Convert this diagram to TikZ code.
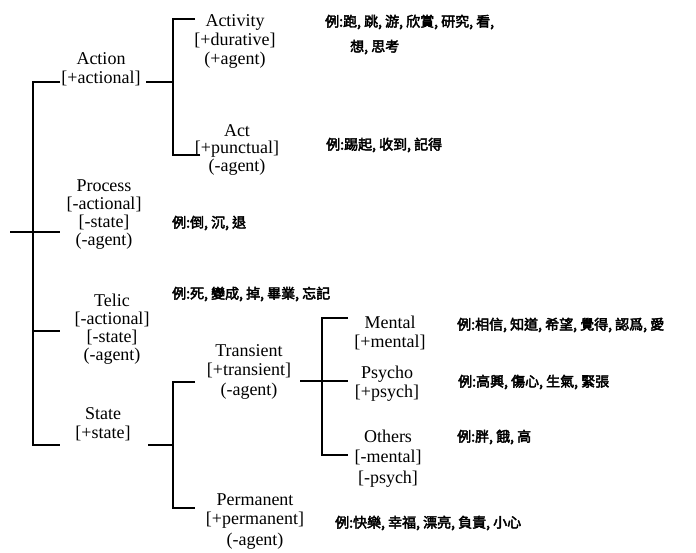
\documentclass[tikz,border=0pt]{standalone}
\usepackage{fontspec}
\setmainfont{Liberation Serif}
\newfontfamily\cjk[FakeBold=3]{Noto Sans CJK TC}

\begin{document}
\begin{tikzpicture}[x=1pt,y=-1pt,
    cat/.style={align=center,inner sep=0pt,font=\fontsize{18}{19}\selectfont},
    ex/.style={anchor=west,inner sep=0pt,font=\cjk\fontsize{14}{16}\selectfont},
    br/.style={line width=1.6pt}]
    \useasboundingbox (0,0) rectangle (696,553);

    % categories
    \node[cat] (action) at (101,69) {Action\\{[}+actional]};
    \node[cat] (activity) at (235,41.5) {Activity\\{[}+durative]\\(+agent)};
    \node[cat,font=\fontsize{18}{17.5}\selectfont] (act) at (237,150) {Act\\{[}+punctual]\\(-agent)};
    \node[cat,font=\fontsize{18}{18}\selectfont] (process) at (104,215) {Process\\{[}-actional]\\{[}-state]\\(-agent)};
    \node[cat,font=\fontsize{18}{18}\selectfont] (telic) at (112,329) {Telic\\{[}-actional]\\{[}-state]\\(-agent)};
    \node[cat] (state) at (103,424) {State\\{[}+state]};
    \node[cat] (transient) at (249,372) {Transient\\{[}+transient]\\[1pt](-agent)};
    \node[cat] (permanent) at (255,522) {Permanent\\{[}+permanent]\\[2pt](-agent)};
    \node[cat] (mental) at (390,332.5) {Mental\\{[}+mental]};
    \node[cat] (psycho) at (387,384) {Psycho\\{[}+psych]};
    \node[cat] (others) at (388,458.5) {Others\\[1pt]{[}-mental]\\[2pt]{[}-psych]};

    % examples
    \node[ex] (exActivity) at (325,22) {例:跑, 跳, 游, 欣賞, 研究, 看,};
    \node[ex] (exActivity2) at (350,47) {想, 思考};
    \node[ex] (exAct) at (326,145) {例:踢起, 收到,\ 記得};
    \node[ex] (exProcess) at (172,223) {例:倒, 沉, 退};
    \node[ex] (exTelic) at (172,294) {例:死, 變成, 掉, 畢業,\ 忘記};
    \node[ex] (exMental) at (457,325) {例:相信, 知道, 希望, 覺得, 認爲, 愛};
    \node[ex] (exPsycho) at (458,382) {例:高興, 傷心, 生氣, 緊張};
    \node[ex] (exOthers) at (457,437) {例:胖, 餓, 高};
    \node[ex] (exPermanent) at (335,523) {例:快樂, 幸福, 漂亮, 負責, 小心};

    % tree
    \coordinate (in) at (10,232);
    \coordinate (j0) at (33,82);
    \coordinate (j1) at (33,445);
    \coordinate (j2) at (33,331);
    \coordinate (tAction) at (60,82);
    \coordinate (tProcess) at (60,232);
    \coordinate (tTelic) at (60,331);
    \coordinate (tState) at (60,445);
    \draw[br] (in) -- (tProcess);
    \draw[br] (tAction) -- (j0) -- (j1) -- (tState);
    \draw[br] (j2) -- (tTelic);

    \coordinate (oAction) at (146,82);
    \coordinate (jA) at (173,82);
    \coordinate (jA1) at (173,19);
    \coordinate (jA2) at (173,155);
    \coordinate (tActivity) at (195,19);
    \coordinate (tAct) at (200,155);
    \draw[br] (oAction) -- (jA);
    \draw[br] (tActivity) -- (jA1) -- (jA2) -- (tAct);

    \coordinate (oState) at (148,445);
    \coordinate (jS) at (173,445);
    \coordinate (jS1) at (173,382);
    \coordinate (jS2) at (173,508);
    \coordinate (tTransient) at (195,382);
    \coordinate (tPermanent) at (195,508);
    \draw[br] (oState) -- (jS);
    \draw[br] (tTransient) -- (jS1) -- (jS2) -- (tPermanent);

    \coordinate (oTransient) at (300,381);
    \coordinate (jT) at (322,381);
    \coordinate (jT1) at (322,318);
    \coordinate (jT2) at (322,455);
    \coordinate (tMental) at (348,318);
    \coordinate (tPsycho) at (348,381);
    \coordinate (tOthers) at (348,455);
    \draw[br] (oTransient) -- (tPsycho);
    \draw[br] (tMental) -- (jT1) -- (jT2) -- (tOthers);
\end{tikzpicture}
\end{document}
